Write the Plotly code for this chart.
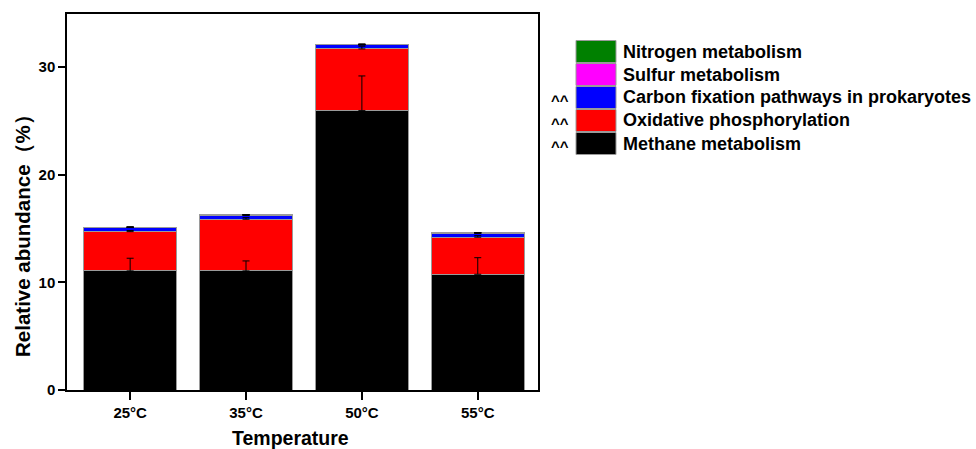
import plotly.graph_objects as go

categories = ["25°C", "35°C", "50°C", "55°C"]
series_names = ["Methane metabolism", "Oxidative phosphorylation",
                "Carbon fixation pathways in prokaryotes", "Sulfur metabolism",
                "Nitrogen metabolism"]
methane = [11.05, 11.05, 25.93, 10.74]
oxidative = [3.65, 4.80, 5.73, 3.44]
carbon = [0.38, 0.37, 0.37, 0.37]
sulfur = [0.02, 0.02, 0.02, 0.02]
nitrogen = [0.02, 0.02, 0.05, 0.02]
methane_err = [1.18, 0.93, 3.22, 1.54]
oxidative_err = [0.10, 0.15, 0.25, 0.15]
carbon_err = [0.05, 0.05, 0.05, 0.05]
sulfur_err = [0.01, 0.01, 0.01, 0.01]
nitrogen_err = [0.01, 0.01, 0.01, 0.01]
marks = ["", "", "^^", "^^", "^^"]  # nitrogen, sulfur, carbon, oxidative, methane

values = [methane, oxidative, carbon, sulfur, nitrogen]
errors = [methane_err, oxidative_err, carbon_err, sulfur_err, nitrogen_err]
colors = ["#000000", "#FF0000", "#0000FF", "#FF00FF", "#008000"]

FONT = "Liberation Sans, Arial, sans-serif"

fig = go.Figure()
for name, v, c in zip(series_names, values, colors):
    fig.add_trace(go.Bar(
        x=categories, y=v, name=name, width=0.8,
        marker=dict(color=c, line=dict(color="#9a9a9a", width=1)),
        showlegend=False,
    ))

# error bars drawn above all bars, at the top of each stacked segment
running = [0.0] * len(categories)
for v, e in zip(values, errors):
    running = [r + vi for r, vi in zip(running, v)]
    fig.add_trace(go.Scatter(
        x=categories, y=list(running), mode="markers",
        marker=dict(size=0.1, color="rgba(0,0,0,0)"),
        error_y=dict(type="data", array=e, arrayminus=[0] * len(e),
                     color="#000000", thickness=1, width=3.5),
        showlegend=False, hoverinfo="skip",
    ))

L, R, T, B = 67, 538, 14, 390
W, H = R - L, B - T
def px(xp):
    return (xp - L) / W
def py(yp):
    return (B - yp) / H

shapes = []
annotations = []
legend_order = list(range(len(series_names)))[::-1]
row_y = [51.5, 74.5, 97.5, 120.5, 143.5]
for i, idx in enumerate(legend_order):
    yc = row_y[i]
    shapes.append(dict(type="rect", xref="paper", yref="paper",
                       x0=px(576), x1=px(616), y0=py(yc + 11), y1=py(yc - 11),
                       fillcolor=colors[idx], line=dict(color="#9a9a9a", width=1)))
    annotations.append(dict(xref="paper", yref="paper", x=px(621), y=py(yc),
                            text="<b>%s</b>" % series_names[idx], showarrow=False,
                            xanchor="left", yanchor="middle",
                            font=dict(family=FONT, size=18, color="#000000")))
    mk = marks[i]
    if mk:
        annotations.append(dict(xref="paper", yref="paper", x=px(571), y=py(yc + 3),
                                text="<b>%s</b>" % mk, showarrow=False,
                                xanchor="right", yanchor="middle",
                                font=dict(family=FONT, size=15, color="#000000")))

# axis titles
annotations.append(dict(xref="paper", yref="paper", x=px(22), y=py(231),
                        text="<b>Relative abundance（%）</b>", textangle=-90, showarrow=False,
                        xanchor="center", yanchor="middle",
                        font=dict(family=FONT, size=20.5, color="#000000")))
annotations.append(dict(xref="paper", yref="paper", x=px(290), y=py(438),
                        text="<b>Temperature</b>", showarrow=False,
                        xanchor="center", yanchor="middle",
                        font=dict(family=FONT, size=19.5, color="#000000")))

fig.update_layout(
    barmode="stack",
    width=976, height=449,
    margin=dict(l=L, r=976 - R, t=T, b=449 - B),
    paper_bgcolor="white", plot_bgcolor="white",
    shapes=shapes, annotations=annotations,
    font=dict(family=FONT, color="#000000"),
    xaxis=dict(range=[-0.545, 3.52], showline=True, linecolor="#000000", linewidth=1.5,
               mirror=True, ticks="outside", ticklen=8, tickwidth=1.5, tickcolor="#000000",
               automargin=False,
               tickfont=dict(family=FONT, size=15, color="#000000")),
    yaxis=dict(range=[0, 34.9], tickvals=[0, 10, 20, 30], ticktext=["<b>0</b>", "<b>10</b>", "<b>20</b>", "<b>30</b>"],
               showline=True, linecolor="#000000", linewidth=1.5, mirror=True,
               ticks="outside", ticklen=7, tickwidth=1.5, tickcolor="#000000",
               showgrid=False, zeroline=False, automargin=False,
               tickfont=dict(family=FONT, size=15, color="#000000")),
)
fig.update_xaxes(tickvals=categories, ticktext=["<b>%s</b>" % c for c in categories])

fig.write_html("out.html", config={"displayModeBar": False},
               post_script="document.body.style.margin='0';document.body.style.overflow='hidden';")
